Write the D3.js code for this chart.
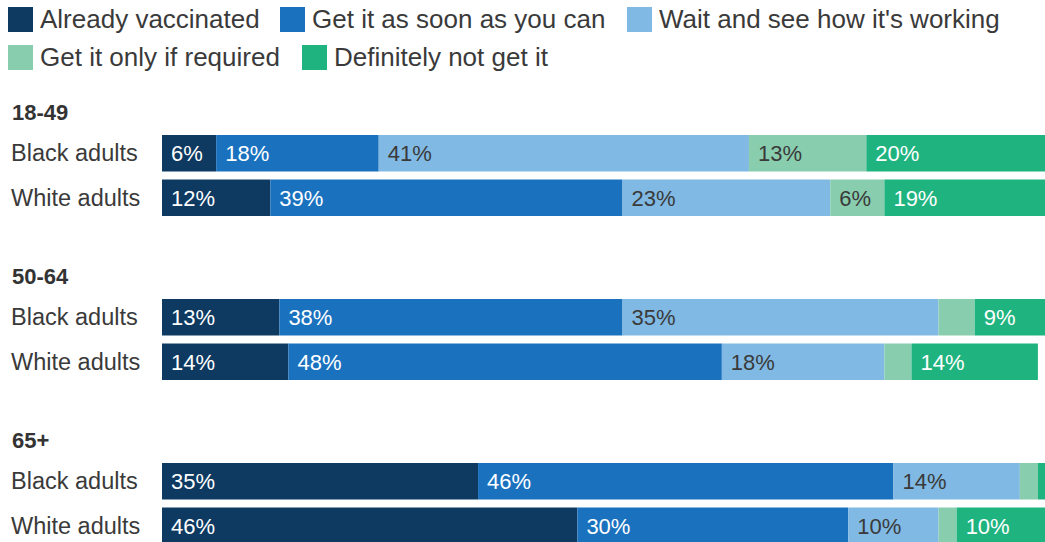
<!DOCTYPE html>
<html>
<head>
<meta charset="utf-8">
<script src="https://cdn.jsdelivr.net/npm/d3@7"></script>
<style>
  html, body { margin: 0; padding: 0; background: #fff; }
  svg { display: block; font-family: "Liberation Sans", Arial, Helvetica, sans-serif; }
</style>
</head>
<body>
<svg id="chart" width="1045" height="542"></svg>
<script>
// Vaccination intent by age group and race (percent of adults)
const ageGroups = ["18-49", "50-64", "65+"];
const populations = ["Black adults", "White adults"];
const responses = [
  "Already vaccinated",
  "Get it as soon as you can",
  "Wait and see how it's working",
  "Get it only if required",
  "Definitely not get it"
];
const responseColors = ["#0e3a62", "#1a72bf", "#80b9e3", "#89cdaf", "#1fb47f"];
const labelColors = ["#ffffff", "#ffffff", "#3a3a3a", "#3a3a3a", "#ffffff"];

// One value per row: 18-49 Black, 18-49 White, 50-64 Black, 50-64 White, 65+ Black, 65+ White
const alreadyVaccinated = [6, 12, 13, 14, 35, 46];
const asSoonAsCan       = [18, 39, 38, 48, 46, 30];
const waitAndSee        = [41, 23, 35, 18, 14, 10];
const onlyIfRequired    = [13, 6, 4, 3, 2, 2];
const definitelyNot     = [20, 19, 9, 14, 2, 10];

const seriesValues = [alreadyVaccinated, asSoonAsCan, waitAndSee, onlyIfRequired, definitelyNot];

// Row table for the stack layout
const rows = [];
ageGroups.forEach((g, gi) => {
  populations.forEach((p, pi) => {
    const idx = gi * populations.length + pi;
    const row = { group: g, gi, pop: p, pi };
    responses.forEach((r, ri) => { row[r] = seriesValues[ri][idx]; });
    rows.push(row);
  });
});

const svg = d3.select("#chart");

const x = d3.scaleLinear().domain([0, 100]).range([162, 1065]);

// Group blocks and rows within each block
const groupY = d3.scaleLinear().domain([0, 1]).range([135, 299]);
const rowY = d3.scaleBand().domain(populations).range([0, 81]).paddingInner(0.18);
const barTop = d => groupY(d.gi) + rowY(d.pop);
const barH = rowY.bandwidth();

const stacked = d3.stack().keys(responses)(rows);

// Legend
const legendItems = [
  { x: 8, y: 7 }, { x: 280, y: 7 }, { x: 627, y: 7 },
  { x: 8, y: 45 }, { x: 302, y: 45 }
];
const legend = svg.append("g");
responses.forEach((r, i) => {
  const pos = legendItems[i];
  legend.append("rect")
    .attr("x", pos.x).attr("y", pos.y)
    .attr("width", 25).attr("height", 25)
    .attr("fill", responseColors[i]);
  legend.append("text")
    .attr("x", pos.x + 32).attr("y", pos.y + 21)
    .attr("font-size", 26).attr("fill", "#3a3a3a")
    .text(r);
});

// Age group headings
svg.append("g").selectAll("text")
  .data(ageGroups)
  .join("text")
  .attr("x", 12)
  .attr("y", (d, i) => groupY(i) - 15)
  .attr("font-size", 22).attr("font-weight", "bold").attr("fill", "#333")
  .text(d => d);

// Row labels
svg.append("g").selectAll("text")
  .data(rows)
  .join("text")
  .attr("x", 11)
  .attr("y", d => barTop(d) + barH / 2 + 8)
  .attr("font-size", 23.5).attr("fill", "#3a3a3a")
  .text(d => d.pop);

// Stacked bar segments
const layers = svg.append("g").selectAll("g")
  .data(stacked)
  .join("g")
  .attr("fill", (d, i) => responseColors[i]);

layers.selectAll("rect")
  .data(d => d)
  .join("rect")
  .attr("x", d => x(d[0]))
  .attr("y", d => barTop(d.data))
  .attr("width", d => x(d[1]) - x(d[0]))
  .attr("height", barH);

// Value labels inside segments
const labelLayers = svg.append("g").selectAll("g")
  .data(stacked)
  .join("g")
  .attr("fill", (d, i) => labelColors[i]);

labelLayers.selectAll("text")
  .data(d => d.filter(s => s[1] - s[0] >= 5))
  .join("text")
  .attr("x", d => x(d[0]) + 9)
  .attr("y", d => barTop(d.data) + barH / 2 + 8)
  .attr("font-size", 22)
  .text(d => (d[1] - d[0]) + "%");
</script>
</body>
</html>
